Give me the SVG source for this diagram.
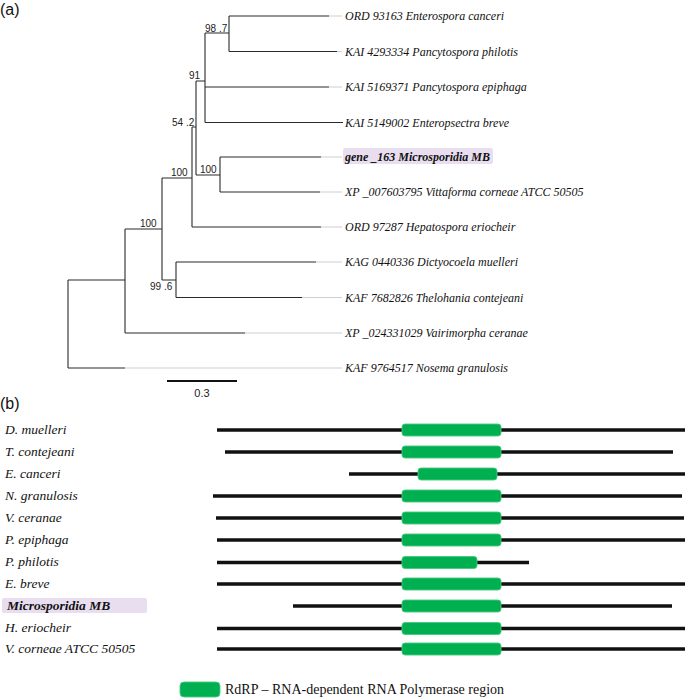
<svg xmlns="http://www.w3.org/2000/svg" width="685" height="698" viewBox="0 0 685 698">
<style>
.br{stroke:#2a2a2a;stroke-width:1.1;fill:none}
.ext{stroke:#cfcfcf;stroke-width:1;fill:none}
.sup{font-family:"Liberation Sans",Arial,sans-serif;font-size:10px;fill:#222}
.leaf{font-family:"Liberation Serif","Times New Roman",serif;font-style:italic;font-size:12px;fill:#111}
.tag{font-family:"Liberation Sans",Arial,sans-serif;font-size:16px;fill:#111}
.sp{font-family:"Liberation Serif","Times New Roman",serif;font-style:italic;font-size:13.5px;fill:#111}
.seq{stroke:#111;stroke-width:3.6;fill:none}
.dom{fill:#00b050;stroke:#46c97f;stroke-width:0.9}
.hl{fill:#e8def0}
</style>
<text class="tag" x="0" y="15">(a)</text>
<g id="connectors">
<path class="br" d="M229,16H329 M229,51.5H337 M205,87H329 M205,122.5H343 M220,157H321 M220,192H320 M192,227H321 M176,262H316 M176,297.5H302 M125,333H245 M68,368H125"/>
<path class="br" d="M229,16V51.5 M205,33H229 M205,33V122.5 M196,81H205 M196,81V175 M196,175H220 M220,157V192 M192,127H196 M192,127V227 M162,178H192 M162,178V280 M162,280H176 M176,262V297.5 M125,229H162 M125,229V333 M68,280H125 M68,280V368"/>
<path class="ext" d="M329,16H342 M337,51.5H342 M329,87H342 M321,157H342 M320,192H342 M321,227H342 M316,262H342 M302,297.5H342 M245,333H342 M125,368H342"/>
<path d="M167,381H237" stroke="#111" stroke-width="2"/>
</g>
<g id="supports">
<text class="sup" x="205" y="31.5">98 .7</text>
<text class="sup" x="189" y="78.5">91</text>
<text class="sup" x="172" y="125.5">54 .2</text>
<text class="sup" x="200" y="172.5">100</text>
<text class="sup" x="171" y="175.5">100</text>
<text class="sup" x="140" y="226.5">100</text>
<text class="sup" x="150" y="290">99 .6</text>
<text class="sup" x="202" y="397" text-anchor="middle" style="font-size:11px">0.3</text>
</g>
<g id="leaves">
<text class="leaf" x="345" y="20">ORD 93163 Enterospora canceri</text>
<text class="leaf" x="345" y="55.5">KAI 4293334 Pancytospora philotis</text>
<text class="leaf" x="345" y="91">KAI 5169371 Pancytospora epiphaga</text>
<text class="leaf" x="345" y="126.5">KAI 5149002 Enteropsectra breve</text>
<g id="leaf-mb"><rect class="hl" x="343" y="148" width="150" height="16" rx="2"/>
<text class="leaf" x="345" y="161" font-weight="bold">gene _163 Microsporidia MB</text></g>
<text class="leaf" x="345" y="196">XP _007603795 Vittaforma corneae ATCC 50505</text>
<text class="leaf" x="345" y="231">ORD 97287 Hepatospora eriocheir</text>
<text class="leaf" x="345" y="266">KAG 0440336 Dictyocoela muelleri</text>
<text class="leaf" x="345" y="301.5">KAF 7682826 Thelohania contejeani</text>
<text class="leaf" x="345" y="337">XP _024331029 Vairimorpha ceranae</text>
<text class="leaf" x="345" y="372">KAF 9764517 Nosema granulosis</text>
</g>
<text class="tag" x="0" y="409">(b)</text>
<g id="rows">
<g id="r1"><text class="sp" x="5" y="434">D. muelleri</text><path class="seq" d="M217,430H685"/><rect class="dom" x="402" y="424" width="99" height="12" rx="3"/></g>
<g id="r2"><text class="sp" x="5" y="456">T. contejeani</text><path class="seq" d="M225,452H673"/><rect class="dom" x="402" y="446" width="99" height="12" rx="3"/></g>
<g id="r3"><text class="sp" x="5" y="478">E. canceri</text><path class="seq" d="M349,474H685"/><rect class="dom" x="418" y="468" width="79" height="12" rx="3"/></g>
<g id="r4"><text class="sp" x="5" y="500">N. granulosis</text><path class="seq" d="M213,496H682"/><rect class="dom" x="402" y="490" width="99" height="12" rx="3"/></g>
<g id="r5"><text class="sp" x="5" y="522">V. ceranae</text><path class="seq" d="M216,518H684"/><rect class="dom" x="402" y="512" width="99" height="12" rx="3"/></g>
<g id="r6"><text class="sp" x="5" y="544">P. epiphaga</text><path class="seq" d="M217,540H685"/><rect class="dom" x="402" y="534" width="99" height="12" rx="3"/></g>
<g id="r7"><text class="sp" x="5" y="566">P. philotis</text><path class="seq" d="M217,562.5H529"/><rect class="dom" x="402" y="556.5" width="75" height="12" rx="3"/></g>
<g id="r8"><text class="sp" x="5" y="588">E. breve</text><path class="seq" d="M217,584H685"/><rect class="dom" x="402" y="578" width="99" height="12" rx="3"/></g>
<g id="r9"><rect class="hl" x="2" y="598" width="145" height="15" rx="2"/><text class="sp" x="7" y="610" font-weight="bold">Microsporidia MB</text><path class="seq" d="M293,606H672"/><rect class="dom" x="402" y="600" width="99" height="12" rx="3"/></g>
<g id="r10"><text class="sp" x="5" y="632">H. eriocheir</text><path class="seq" d="M217,628.5H685"/><rect class="dom" x="402" y="622.5" width="99" height="12" rx="3"/></g>
<g id="r11"><text class="sp" x="5" y="653">V. corneae ATCC 50505</text><path class="seq" d="M217,649H685"/><rect class="dom" x="402" y="643" width="99" height="12" rx="3"/></g>
</g>
<g id="legend">
<rect class="dom" x="180" y="682" width="40" height="15" rx="4"/>
<text x="225" y="694" style="font-family:'Liberation Serif','Times New Roman',serif;font-size:14px;fill:#111">RdRP – RNA-dependent RNA Polymerase region</text>
</g>
</svg>
